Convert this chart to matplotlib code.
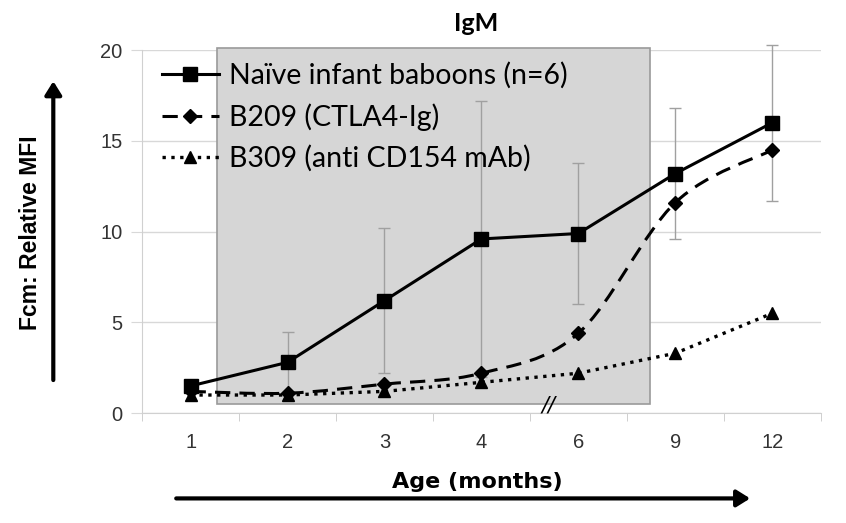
import numpy as np
import matplotlib.pyplot as plt
from matplotlib.patches import Rectangle, FancyArrowPatch, PathPatch
from matplotlib.path import Path
from matplotlib.lines import Line2D

ages = ["1", "2", "3", "4", "6", "9", "12"]
naive = [1.5, 2.8, 6.2, 9.6, 9.9, 13.2, 16.0]
naive_err = [0.3, 1.7, 4.0, 7.6, 3.9, 3.6, 4.3]
b209 = [1.2, 1.1, 1.6, 2.2, 4.4, 11.6, 14.5]
b309 = [1.0, 1.0, 1.2, 1.7, 2.2, 3.3, 5.5]

labels = ["Naïve infant baboons (n=6)", "B209 (CTLA4-Ig)", "B309 (anti CD154 mAb)"]

x = np.arange(len(ages))


def smooth_path(xs, ys):
    # excel-style smoothed line: bezier segments through the points
    p = np.column_stack([xs, ys]).astype(float)
    n = len(p)
    verts = [p[0]]
    codes = [Path.MOVETO]
    for i in range(n - 1):
        p0 = p[max(i - 1, 0)]
        p3 = p[min(i + 2, n - 1)]
        c1 = p[i] + (p[i + 1] - p0) / 6
        c2 = p[i + 1] - (p3 - p[i]) / 6
        verts += [c1, c2, p[i + 1]]
        codes += [Path.CURVE4] * 3
    return Path(verts, codes)


fig = plt.figure(figsize=(8.46, 5.23), dpi=100)
ax = fig.add_axes([0.168, 0.21, 0.802, 0.694])

# shaded treatment window
ax.add_patch(Rectangle((0.27, 0.5), 4.47, 19.6, facecolor="#d6d6d6",
                       edgecolor="#9a9a9a", lw=1.2, zorder=1, clip_on=False))

ax.errorbar(x, naive, yerr=naive_err, fmt="none", ecolor="#a0a0a0",
            elinewidth=1, capsize=4, zorder=2, clip_on=False)
ax.plot(x, naive, "-s", color="black", lw=2.2, ms=10, zorder=4)
ax.add_patch(PathPatch(smooth_path(x, b209), fill=False, edgecolor="black",
                       lw=2.2, linestyle=(0, (5, 3)), zorder=4))
ax.plot(x, b209, "D", color="black", ms=7, zorder=4)
ax.plot(x, b309, ":^", color="black", lw=2.4, ms=9, zorder=4)

ax.set_xlim(-0.5, len(ages) - 0.5)
ax.set_ylim(0, 20)
ax.set_yticks([0, 5, 10, 15, 20])
ax.set_xticks(x)
ax.set_xticklabels(ages)
ax.set_xticks(np.arange(-0.5, len(ages), 1), minor=True)
ax.tick_params(axis="x", which="major", length=0, pad=14, labelsize=14.5)
ax.tick_params(axis="x", which="minor", length=6, color="#c8c8c8")
ax.tick_params(axis="y", length=8, color="#d8d8d8", pad=6, labelsize=14.5)
for t in ax.get_xticklabels() + ax.get_yticklabels():
    t.set_fontfamily("Liberation Sans")
    t.set_color("#333333")
ax.yaxis.grid(True, color="#d8d8d8", lw=1, zorder=0)
ax.set_axisbelow(True)
for s in ["top", "right"]:
    ax.spines[s].set_visible(False)
ax.spines["left"].set_color("#d0d0d0")
ax.spines["bottom"].set_color("#d0d0d0")

# axis break mark
ax.text(3.69, 0.45, "//", ha="center", va="center", fontsize=15,
        style="italic", zorder=5, clip_on=False)

fig.text(0.563, 0.956, "IgM", ha="center", va="center", fontsize=18,
         fontweight="bold", family="Lato")

handles = [
    Line2D([], [], color="black", ls="-", lw=2.2, marker="s", ms=10),
    Line2D([], [], color="black", ls=(0, (5, 3)), lw=2.2, marker="D", ms=7),
    Line2D([], [], color="black", ls=":", lw=2.4, marker="^", ms=9),
]
ax.legend(handles, labels, loc="upper left", frameon=False,
          prop={"family": "Lato", "size": 20.5}, handlelength=2.0,
          handletextpad=0.35, labelspacing=0.5, borderpad=0,
          borderaxespad=0, bbox_to_anchor=(0.029, 0.968))

fig.text(0.036, 0.556, "Fcm: Relative MFI", rotation=90, ha="center",
         va="center", fontsize=16.5, fontweight="bold",
         family="Liberation Sans")
fig.text(0.564, 0.078, "Age (months)", ha="center", va="center",
         fontsize=16, fontweight="bold")

fig.patches.append(FancyArrowPatch(
    (0.063, 0.268), (0.063, 0.85), transform=fig.transFigure,
    arrowstyle="-|>,head_length=8,head_width=5", color="black", lw=3,
    mutation_scale=1))
fig.patches.append(FancyArrowPatch(
    (0.205, 0.047), (0.89, 0.047), transform=fig.transFigure,
    arrowstyle="-|>,head_length=8,head_width=5", color="black", lw=3,
    mutation_scale=1))

fig.savefig("out.png", dpi=100)
